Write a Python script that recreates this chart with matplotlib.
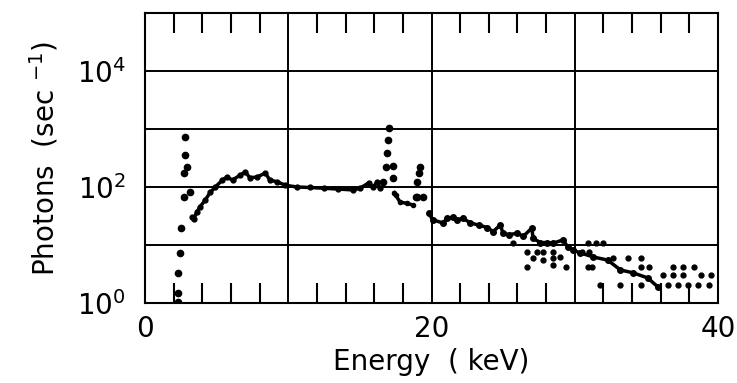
import matplotlib
matplotlib.use('Agg')
import matplotlib.pyplot as plt
from matplotlib.ticker import FixedLocator, FixedFormatter

# low-energy spike (dots)
spikeE = [2.3, 2.3, 2.3, 2.4, 2.5, 2.7, 2.7, 2.9, 2.8, 2.8, 3.1]
spikeC = [1.05, 1.5, 3.3, 7.3, 19.6, 67, 175, 220, 355, 725, 82]

# continuum, 3 - 16.5 keV
contE = [3.3, 3.4, 3.6, 3.85, 4.2, 4.55, 4.9, 5.4, 5.7, 6.1, 6.6, 7.0, 7.3, 7.8, 8.4, 8.7,
         9.2, 9.8, 10.6, 11.5, 12.5, 13.5, 14.5, 15.0, 15.6, 15.9, 16.2, 16.4]
contC = [30, 28, 37, 46, 60, 81, 100, 132, 148, 132, 158, 182, 145, 148, 174, 132,
         123, 107, 100, 98, 95, 92, 89, 95, 117, 100, 120, 95]

# peaks around 17 and 19 keV (dots)
peakE = [16.6, 16.8, 16.9, 16.95, 17.0, 17.3, 17.3, 19.0, 19.0, 19.1, 19.2, 19.4, 18.9]
peakC = [123, 218, 390, 650, 1050, 230, 145, 68, 123, 175, 220, 68, 66]

# dip after 17 keV peak
dipE = [17.4, 17.5, 17.8, 18.3, 18.7]
dipC = [80, 72, 55, 52, 49]

# falling continuum above 20 keV
highE = [19.8, 20.1, 20.8, 21.1, 21.5, 21.8, 22.2, 22.7, 23.3, 23.9, 24.3, 24.8, 25.0, 25.4,
         26.0, 26.4, 27.0, 27.1, 27.6, 28.1, 28.5, 29.2, 29.5, 29.9, 30.4, 31.3, 32.3, 33.2,
         34.1, 35.1, 35.8]
highC = [35, 27, 24, 29, 30, 27, 29, 24, 22, 20, 17, 22, 16, 15,
         16, 14, 19.5, 13, 11, 11, 10.7, 12.3, 9.3, 8.1, 7.3, 6.2, 5.5, 3.7,
         3.3, 2.7, 1.9]

# scattered noise points at high energy
noiseE = [25.7, 26.7, 27.4, 27.8, 28.5, 27.1, 27.8, 28.5, 29.0, 26.7, 28.5, 29.4,
          30.9, 31.5, 32.0, 30.5, 31.0, 30.9, 31.2, 32.7, 33.7, 34.6, 35.2, 34.6,
          31.8, 33.2, 34.6, 36.9, 37.6, 38.3, 36.2, 36.9, 37.6, 38.8, 39.5,
          36.5, 37.2, 37.9, 38.6, 39.4]
noiseC = [10.7, 7.6, 7.6, 7.6, 7.6, 6.0, 5.5, 6.0, 6.2, 4.2, 4.6, 4.2,
          10.7, 10.7, 10.7, 7.5, 7.5, 4.2, 4.2, 6.0, 6.0, 6.0, 4.2, 4.2,
          2.0, 2.0, 2.0, 4.2, 4.2, 4.2, 3.0, 3.0, 3.0, 3.0, 3.0,
          2.0, 2.0, 2.0, 2.0, 2.0]

xticks = [0, 20, 40]
yticks = [1, 1e2, 1e4]
yticklabels = ['$10^{0}$', '$10^{2}$', '$10^{4}$']

plt.rcParams['font.family'] = 'DejaVu Sans'
plt.rcParams['mathtext.fontset'] = 'dejavusans'

fig = plt.figure(figsize=(7.37, 3.83), dpi=100)
ax = fig.add_axes([0.197, 0.209, 0.777, 0.757])

k = 'black'
ax.plot(spikeE, spikeC, 'o', color=k, ms=4.5)
ax.plot(contE, contC, '-o', color=k, lw=2.5, ms=3.5)
ax.plot(peakE, peakC, 'o', color=k, ms=4.5)
ax.plot(dipE, dipC, '-o', color=k, lw=2.5, ms=3)
ax.plot(highE, highC, '-o', color=k, lw=2.5, ms=4)
ax.plot(noiseE, noiseC, 'o', color=k, ms=3.5)

ax.set_yscale('log')
ax.set_xlim(0, 40)
ax.set_ylim(1, 1e5)

# grid every 10 keV and every decade
for xg in [10, 20, 30]:
    ax.axvline(xg, color=k, lw=1.4)
for yg in [10, 100, 1e3, 1e4]:
    ax.axhline(yg, color=k, lw=1.4)

ax.xaxis.set_major_locator(FixedLocator(xticks))
ax.xaxis.set_minor_locator(FixedLocator([v for v in range(2, 40, 2) if v % 10 != 0]))
ax.yaxis.set_major_locator(FixedLocator(yticks))
ax.yaxis.set_major_formatter(FixedFormatter(yticklabels))
ax.yaxis.set_minor_locator(FixedLocator([]))

ax.tick_params(axis='x', which='major', length=0, pad=9, labelsize=20)
ax.tick_params(axis='x', which='minor', direction='in', length=14.5, width=1.5,
               top=True, bottom=True)
ax.tick_params(axis='y', which='major', length=0, pad=14, labelsize=20)

for s in ax.spines.values():
    s.set_linewidth(1.5)

ax.set_xlabel('Energy  ( keV)', fontsize=20, labelpad=3)
ax.set_ylabel('Photons  (sec $^{-1}$)', fontsize=20, labelpad=12)

plt.savefig('out.png', dpi=100)
